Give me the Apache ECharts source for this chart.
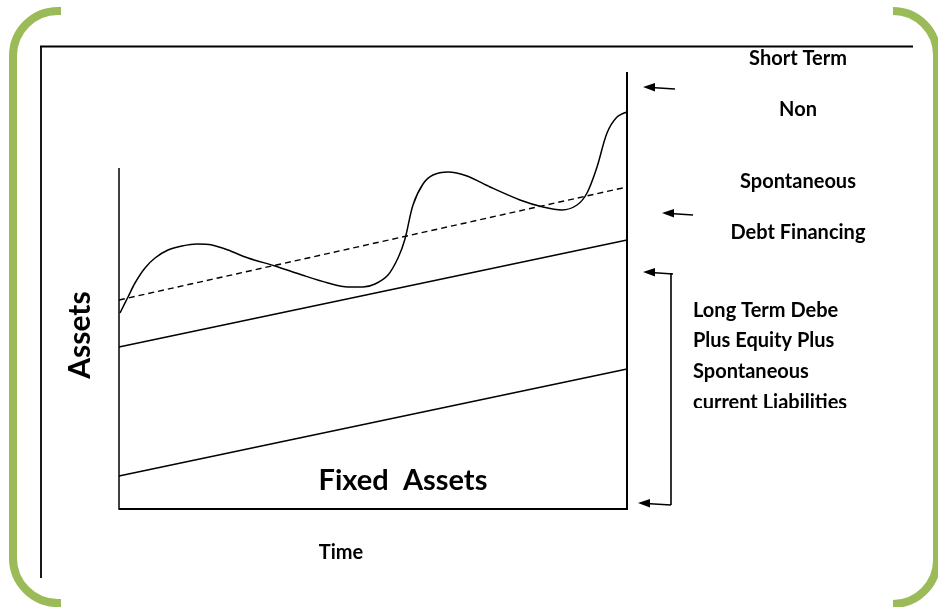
<!DOCTYPE html>
<html>
<head>
<meta charset="utf-8">
<script src="https://cdn.jsdelivr.net/npm/echarts@6/dist/echarts.min.js"></script>
<style>
  html, body { margin: 0; padding: 0; background: #fff; }
  #chart { width: 938px; height: 607px; }
</style>
</head>
<body>
<div id="chart"></div>
<script>
// x: time (0..508), y: asset level (0..440)
var fixedAssets = [[0, 33], [508, 140]];
var permanentCurrent = [[0, 162], [508, 269]];
var financingLine = [[0, 209], [508, 322]];
var totalAssets = [
    [1, 196], [9, 212], [16, 226], [26, 241], [36, 251], [49, 259],
    [63, 263], [78, 265], [93, 264], [109, 259], [129, 251], [156, 243],
    [183, 234], [209, 226], [229, 222], [244, 222], [256, 225], [269, 234],
    [279, 251], [286, 270], [294, 304], [304, 325], [314, 334], [329, 337],
    [348, 333], [371, 322], [401, 309], [424, 302], [443, 299], [458, 304],
    [468, 316], [478, 342], [488, 376], [498, 392], [508, 397]
];
var leftAxisLine = [[0, -1], [0, 341]];
var bottomAxisLine = [[0, 0], [508, 0]];
var rightAxisLine = [[508, -1], [508, 437]];

var rightLabels = ['Short Term', 'Non', 'Spontaneous', 'Debt Financing'];
var rightLabelY = [59, 110, 182, 233];
var longTermLabels = ['Long Term Debe', 'Plus Equity Plus', 'Spontaneous', 'current Liabilities'];
var longTermY = [311, 341, 372, 403];

var chart = echarts.init(document.getElementById('chart'));
var green = '#9BBB59';
var ink = '#000';

function line(x1, y1, x2, y2, w, color) {
    return {
        type: 'line',
        shape: { x1: x1, y1: y1, x2: x2, y2: y2 },
        style: { stroke: color || ink, lineWidth: w || 1.5 }
    };
}

function arc(cx, cy, r, a0, a1) {
    return {
        type: 'arc',
        shape: { cx: cx, cy: cy, r: r, startAngle: a0, endAngle: a1, clockwise: true },
        style: { stroke: green, lineWidth: 8, fill: null }
    };
}

function arrow(tipX, tipY, tailX, tailY) {
    return [
        line(tipX + 8, tipY + (tailY - tipY) * 8 / (tailX - tipX), tailX, tailY, 1.6),
        {
            type: 'polygon',
            shape: { points: [[tipX, tipY], [tipX + 12, tipY - 4], [tipX + 12, tipY + 4.5]] },
            style: { fill: ink }
        }
    ];
}

function text(str, x, y, size, align) {
    return {
        type: 'text',
        x: x,
        y: y,
        style: {
            text: str,
            font: 'bold ' + size + 'px Lato',
            fill: ink,
            textAlign: align || 'center',
            textVerticalAlign: 'middle'
        }
    };
}

var graphics = [
    // green corner frame
    arc(58, 56, 45, Math.PI, Math.PI * 1.5),
    line(58, 11, 61, 11, 8, green),
    line(13, 56, 13, 558, 8, green),
    arc(58, 558, 45, Math.PI / 2, Math.PI),
    line(58, 603, 61, 603, 8, green),
    arc(893, 55, 44, -Math.PI / 2, 0),
    line(937, 55, 937, 560, 8, green),
    arc(893, 560, 44, 0, Math.PI / 2),
    // black frame
    line(40, 46.5, 913, 46.5, 1.8),
    line(41, 46, 41, 578, 1.8),
    // bracket
    line(671, 273, 671, 505, 1.6),
    text('Fixed  Assets', 403, 481, 29),
    text('Time', 341, 553, 20),
    {
        type: 'text',
        x: 80,
        y: 335,
        rotation: Math.PI / 2,
        style: {
            text: 'Assets',
            font: 'bold 30px Lato',
            fill: ink,
            textAlign: 'center',
            textVerticalAlign: 'middle'
        }
    }
];
graphics = graphics
    .concat(arrow(643, 87, 675, 89))
    .concat(arrow(662, 213, 693, 215))
    .concat(arrow(643, 272, 673, 274))
    .concat(arrow(638, 503, 671, 505));
rightLabels.forEach(function (t, i) {
    graphics.push(text(t, 798, rightLabelY[i], 20));
});
longTermLabels.forEach(function (t, i) {
    graphics.push(text(t, 693, longTermY[i], 20, 'left'));
});
// last label is cut off in the original
graphics.push({
    type: 'rect',
    z: 100,
    shape: { x: 685, y: 408, width: 210, height: 14 },
    style: { fill: '#fff' }
});

function plain(data, extra) {
    return Object.assign({
        type: 'line',
        data: data,
        symbol: 'none',
        silent: true,
        lineStyle: { color: ink, width: 1.5 }
    }, extra || {});
}

chart.setOption({
    animation: false,
    backgroundColor: '#fff',
    grid: { left: 119, right: 311, top: 69, bottom: 98 },
    xAxis: { type: 'value', min: 0, max: 508, show: false },
    yAxis: { type: 'value', min: 0, max: 440, show: false },
    series: [
        plain(leftAxisLine),
        plain(bottomAxisLine, { lineStyle: { color: ink, width: 2 } }),
        plain(rightAxisLine, { lineStyle: { color: ink, width: 2 } }),
        plain(fixedAssets),
        plain(permanentCurrent),
        plain(financingLine, { lineStyle: { color: ink, width: 1.4, type: [6, 4] } }),
        plain(totalAssets, { smooth: 0.3 })
    ],
    graphic: graphics
});
</script>
</body>
</html>
